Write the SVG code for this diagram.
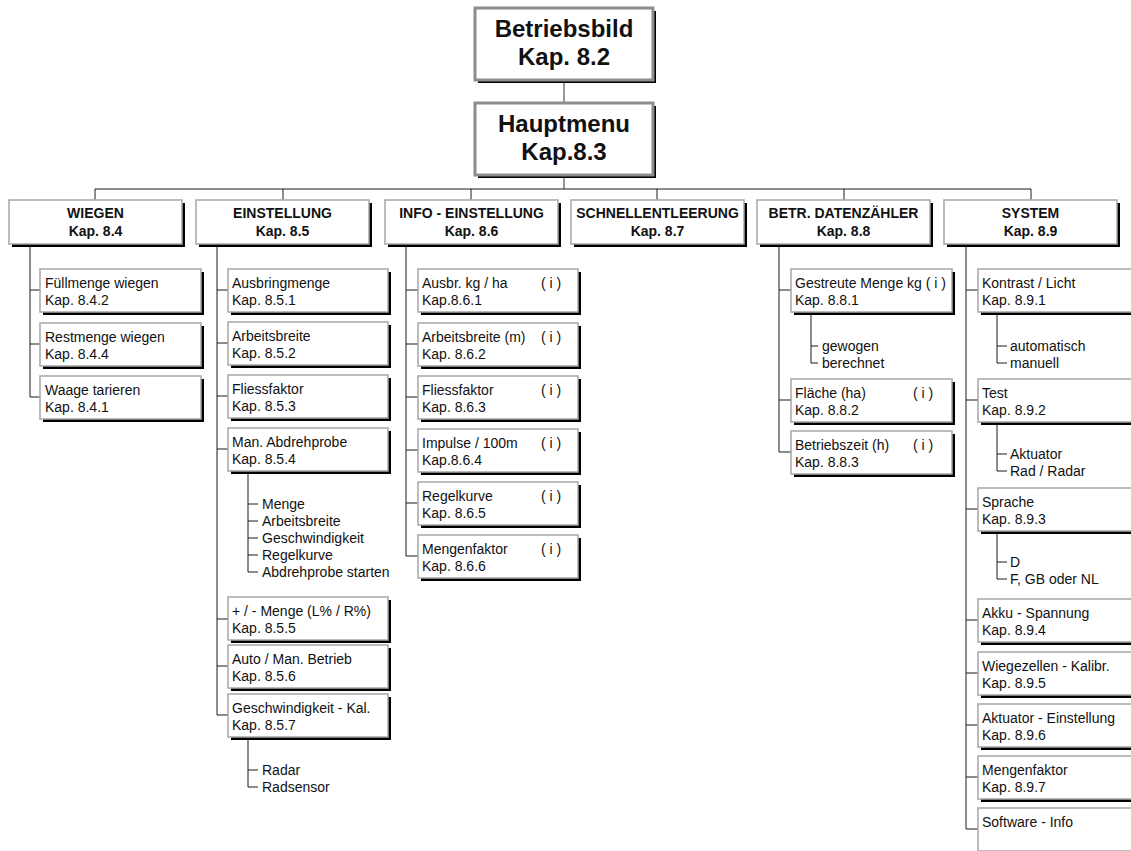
<svg xmlns="http://www.w3.org/2000/svg" width="1131" height="851" viewBox="0 0 1131 851">
  <style>
    .bg { fill: #ffffff; }
    .shadow { fill: #000000; }
    .box { fill: #ffffff; stroke: #a6a6a6; stroke-width: 1.5; }
    .head { fill: #ffffff; stroke: #8c8c8c; stroke-width: 3; }
    .t { font-family: "Liberation Sans", Arial, sans-serif; font-size: 14px; fill: #111111; }
    .c { text-anchor: middle; font-weight: bold; }
    .big { font-family: "Liberation Sans", Arial, sans-serif; font-size: 24px; font-weight: bold; fill: #111111; text-anchor: middle; }
    .link { stroke: #1a1a1a; stroke-width: 1; fill: none; }
    .link2 { stroke: #777777; stroke-width: 1.5; fill: none; }
  </style>
  <rect class="bg" x="0" y="0" width="1131" height="851"/>

  <!-- connectors -->
  <g id="connectors">
    <path class="link2" d="M564 80V103M564 175V189"/>
    <!-- bus to the six sections -->
    <path class="link" d="M95 200V189H1031V200M283 189V200M471 189V200M657 189V200M844 189V200"/>
    <!-- WIEGEN -->
    <path class="link" d="M30 244V397H40M30 290H40M30 344H40"/>
    <!-- EINSTELLUNG -->
    <path class="link" d="M217 244V715H228M217 290H228M217 343H228M217 396H228M217 449H228M217 619H228M217 666H228"/>
    <path class="link" d="M248 471V572H258M248 504H258M248 521H258M248 538H258M248 555H258"/>
    <path class="link" d="M248 737V787H258M248 770H258"/>
    <!-- INFO - EINSTELLUNG -->
    <path class="link" d="M406 244V556H418M406 290H418M406 344H418M406 397H418M406 450H418M406 503H418"/>
    <!-- BETR. DATENZAEHLER -->
    <path class="link" d="M779 244V452H791M779 290H791M779 400H791"/>
    <path class="link" d="M811 312V363H818M811 346H818"/>
    <!-- SYSTEM -->
    <path class="link" d="M966 244V829H978M966 290H978M966 400H978M966 509H978M966 620H978M966 673H978M966 725H978M966 777H978"/>
    <path class="link" d="M997 312V363H1007M997 346H1007"/>
    <path class="link" d="M997 422V471H1007M997 454H1007"/>
    <path class="link" d="M997 531V579H1007M997 562H1007"/>
  </g>

  <!-- top level -->
  <g id="betriebsbild">
    <rect class="shadow" x="478" y="11" width="178" height="72"/>
    <rect class="head" x="475" y="8" width="178" height="72"/>
    <text class="big" x="564" y="37">Betriebsbild</text>
    <text class="big" x="564" y="65">Kap. 8.2</text>
  </g>
  <g id="hauptmenu">
    <rect class="shadow" x="478" y="106" width="178" height="72"/>
    <rect class="head" x="475" y="103" width="178" height="72"/>
    <text class="big" x="564" y="132">Hauptmenu</text>
    <text class="big" x="564" y="160">Kap.8.3</text>
  </g>

  <!-- sections -->
  <g id="wiegen">
    <rect class="shadow" x="12" y="203" width="173" height="44"/>
    <rect class="box" x="9" y="200" width="173" height="44"/>
    <text class="t c" x="95.5" y="218">WIEGEN</text>
    <text class="t c" x="95.5" y="236">Kap. 8.4</text>
  </g>
  <g id="einstellung">
    <rect class="shadow" x="199" y="203" width="173" height="44"/>
    <rect class="box" x="196" y="200" width="173" height="44"/>
    <text class="t c" x="282.5" y="218">EINSTELLUNG</text>
    <text class="t c" x="282.5" y="236">Kap. 8.5</text>
  </g>
  <g id="info-einstellung">
    <rect class="shadow" x="388" y="203" width="173" height="44"/>
    <rect class="box" x="385" y="200" width="173" height="44"/>
    <text class="t c" x="471.5" y="218">INFO - EINSTELLUNG</text>
    <text class="t c" x="471.5" y="236">Kap. 8.6</text>
  </g>
  <g id="schnellentleerung">
    <rect class="shadow" x="574" y="203" width="173" height="44"/>
    <rect class="box" x="571" y="200" width="173" height="44"/>
    <text class="t c" x="657.5" y="218">SCHNELLENTLEERUNG</text>
    <text class="t c" x="657.5" y="236">Kap. 8.7</text>
  </g>
  <g id="datenzaehler">
    <rect class="shadow" x="760" y="203" width="173" height="44"/>
    <rect class="box" x="757" y="200" width="173" height="44"/>
    <text class="t c" x="843.5" y="218">BETR. DATENZÄHLER</text>
    <text class="t c" x="843.5" y="236">Kap. 8.8</text>
  </g>
  <g id="system">
    <rect class="shadow" x="947" y="203" width="173" height="44"/>
    <rect class="box" x="944" y="200" width="173" height="44"/>
    <text class="t c" x="1030.5" y="218">SYSTEM</text>
    <text class="t c" x="1030.5" y="236">Kap. 8.9</text>
  </g>

  <!-- WIEGEN items -->
  <g id="fuellmenge">
    <rect class="shadow" x="43" y="272" width="161" height="43"/>
    <rect class="box" x="40" y="269" width="161" height="43"/>
    <text class="t" x="45" y="288">Füllmenge wiegen</text>
    <text class="t" x="45" y="305">Kap. 8.4.2</text>
  </g>
  <g id="restmenge">
    <rect class="shadow" x="43" y="326" width="161" height="43"/>
    <rect class="box" x="40" y="323" width="161" height="43"/>
    <text class="t" x="45" y="342">Restmenge wiegen</text>
    <text class="t" x="45" y="359">Kap. 8.4.4</text>
  </g>
  <g id="tarieren">
    <rect class="shadow" x="43" y="379" width="161" height="43"/>
    <rect class="box" x="40" y="376" width="161" height="43"/>
    <text class="t" x="45" y="395">Waage tarieren</text>
    <text class="t" x="45" y="412">Kap. 8.4.1</text>
  </g>

  <!-- EINSTELLUNG items -->
  <g id="ausbringmenge">
    <rect class="shadow" x="231" y="272" width="160" height="43"/>
    <rect class="box" x="228" y="269" width="160" height="43"/>
    <text class="t" x="232" y="288">Ausbringmenge</text>
    <text class="t" x="232" y="305">Kap. 8.5.1</text>
  </g>
  <g id="arbeitsbreite">
    <rect class="shadow" x="231" y="325" width="160" height="43"/>
    <rect class="box" x="228" y="322" width="160" height="43"/>
    <text class="t" x="232" y="341">Arbeitsbreite</text>
    <text class="t" x="232" y="358">Kap. 8.5.2</text>
  </g>
  <g id="fliessfaktor">
    <rect class="shadow" x="231" y="378" width="160" height="43"/>
    <rect class="box" x="228" y="375" width="160" height="43"/>
    <text class="t" x="232" y="394">Fliessfaktor</text>
    <text class="t" x="232" y="411">Kap. 8.5.3</text>
  </g>
  <g id="abdrehprobe">
    <rect class="shadow" x="231" y="431" width="160" height="43"/>
    <rect class="box" x="228" y="428" width="160" height="43"/>
    <text class="t" x="232" y="447">Man. Abdrehprobe</text>
    <text class="t" x="232" y="464">Kap. 8.5.4</text>
  </g>
  <g id="abdrehprobe-items">
    <text class="t" x="262" y="509">Menge</text>
    <text class="t" x="262" y="526">Arbeitsbreite</text>
    <text class="t" x="262" y="543">Geschwindigkeit</text>
    <text class="t" x="262" y="560">Regelkurve</text>
    <text class="t" x="262" y="577">Abdrehprobe starten</text>
  </g>
  <g id="menge-lr">
    <rect class="shadow" x="231" y="600" width="160" height="43"/>
    <rect class="box" x="228" y="597" width="160" height="43"/>
    <text class="t" x="232" y="616">+ / - Menge (L% / R%)</text>
    <text class="t" x="232" y="633">Kap. 8.5.5</text>
  </g>
  <g id="betrieb">
    <rect class="shadow" x="231" y="648" width="160" height="43"/>
    <rect class="box" x="228" y="645" width="160" height="43"/>
    <text class="t" x="232" y="664">Auto / Man. Betrieb</text>
    <text class="t" x="232" y="681">Kap. 8.5.6</text>
  </g>
  <g id="geschw-kal">
    <rect class="shadow" x="231" y="697" width="160" height="43"/>
    <rect class="box" x="228" y="694" width="160" height="43"/>
    <text class="t" x="232" y="713">Geschwindigkeit - Kal.</text>
    <text class="t" x="232" y="730">Kap. 8.5.7</text>
  </g>
  <g id="geschw-items">
    <text class="t" x="262" y="775">Radar</text>
    <text class="t" x="262" y="792">Radsensor</text>
  </g>

  <!-- INFO - EINSTELLUNG items -->
  <g id="info-ausbr">
    <rect class="shadow" x="421" y="272" width="160" height="43"/>
    <rect class="box" x="418" y="269" width="160" height="43"/>
    <text class="t" x="422" y="288">Ausbr. kg / ha</text>
    <text class="t" x="541" y="288">( i )</text>
    <text class="t" x="422" y="305">Kap.8.6.1</text>
  </g>
  <g id="info-arbeitsbreite">
    <rect class="shadow" x="421" y="326" width="160" height="43"/>
    <rect class="box" x="418" y="323" width="160" height="43"/>
    <text class="t" x="422" y="342">Arbeitsbreite (m)</text>
    <text class="t" x="541" y="342">( i )</text>
    <text class="t" x="422" y="359">Kap. 8.6.2</text>
  </g>
  <g id="info-fliessfaktor">
    <rect class="shadow" x="421" y="379" width="160" height="43"/>
    <rect class="box" x="418" y="376" width="160" height="43"/>
    <text class="t" x="422" y="395">Fliessfaktor</text>
    <text class="t" x="541" y="395">( i )</text>
    <text class="t" x="422" y="412">Kap. 8.6.3</text>
  </g>
  <g id="info-impulse">
    <rect class="shadow" x="421" y="432" width="160" height="43"/>
    <rect class="box" x="418" y="429" width="160" height="43"/>
    <text class="t" x="422" y="448">Impulse / 100m</text>
    <text class="t" x="541" y="448">( i )</text>
    <text class="t" x="422" y="465">Kap.8.6.4</text>
  </g>
  <g id="info-regelkurve">
    <rect class="shadow" x="421" y="485" width="160" height="43"/>
    <rect class="box" x="418" y="482" width="160" height="43"/>
    <text class="t" x="422" y="501">Regelkurve</text>
    <text class="t" x="541" y="501">( i )</text>
    <text class="t" x="422" y="518">Kap. 8.6.5</text>
  </g>
  <g id="info-mengenfaktor">
    <rect class="shadow" x="421" y="538" width="160" height="43"/>
    <rect class="box" x="418" y="535" width="160" height="43"/>
    <text class="t" x="422" y="554">Mengenfaktor</text>
    <text class="t" x="541" y="554">( i )</text>
    <text class="t" x="422" y="571">Kap. 8.6.6</text>
  </g>

  <!-- BETR. DATENZAEHLER items -->
  <g id="gestreute-menge">
    <rect class="shadow" x="794" y="272" width="161" height="43"/>
    <rect class="box" x="791" y="269" width="161" height="43"/>
    <text class="t" x="795" y="288">Gestreute Menge kg ( i )</text>
    <text class="t" x="795" y="305">Kap. 8.8.1</text>
  </g>
  <g id="gestreute-items">
    <text class="t" x="822" y="351">gewogen</text>
    <text class="t" x="822" y="368">berechnet</text>
  </g>
  <g id="flaeche">
    <rect class="shadow" x="794" y="382" width="161" height="43"/>
    <rect class="box" x="791" y="379" width="161" height="43"/>
    <text class="t" x="795" y="398">Fläche (ha)</text>
    <text class="t" x="913" y="398">( i )</text>
    <text class="t" x="795" y="415">Kap. 8.8.2</text>
  </g>
  <g id="betriebszeit">
    <rect class="shadow" x="794" y="434" width="161" height="43"/>
    <rect class="box" x="791" y="431" width="161" height="43"/>
    <text class="t" x="795" y="450">Betriebszeit (h)</text>
    <text class="t" x="913" y="450">( i )</text>
    <text class="t" x="795" y="467">Kap. 8.8.3</text>
  </g>

  <!-- SYSTEM items -->
  <g id="kontrast">
    <rect class="shadow" x="981" y="272" width="170" height="43"/>
    <rect class="box" x="978" y="269" width="170" height="43"/>
    <text class="t" x="982" y="288">Kontrast / Licht</text>
    <text class="t" x="982" y="305">Kap. 8.9.1</text>
  </g>
  <g id="kontrast-items">
    <text class="t" x="1010" y="351">automatisch</text>
    <text class="t" x="1010" y="368">manuell</text>
  </g>
  <g id="test">
    <rect class="shadow" x="981" y="382" width="170" height="43"/>
    <rect class="box" x="978" y="379" width="170" height="43"/>
    <text class="t" x="982" y="398">Test</text>
    <text class="t" x="982" y="415">Kap. 8.9.2</text>
  </g>
  <g id="test-items">
    <text class="t" x="1010" y="459">Aktuator</text>
    <text class="t" x="1010" y="476">Rad / Radar</text>
  </g>
  <g id="sprache">
    <rect class="shadow" x="981" y="491" width="170" height="43"/>
    <rect class="box" x="978" y="488" width="170" height="43"/>
    <text class="t" x="982" y="507">Sprache</text>
    <text class="t" x="982" y="524">Kap. 8.9.3</text>
  </g>
  <g id="sprache-items">
    <text class="t" x="1010" y="567">D</text>
    <text class="t" x="1010" y="584">F, GB oder NL</text>
  </g>
  <g id="akku">
    <rect class="shadow" x="981" y="602" width="170" height="43"/>
    <rect class="box" x="978" y="599" width="170" height="43"/>
    <text class="t" x="982" y="618">Akku - Spannung</text>
    <text class="t" x="982" y="635">Kap. 8.9.4</text>
  </g>
  <g id="wiegezellen">
    <rect class="shadow" x="981" y="655" width="170" height="43"/>
    <rect class="box" x="978" y="652" width="170" height="43"/>
    <text class="t" x="982" y="671">Wiegezellen - Kalibr.</text>
    <text class="t" x="982" y="688">Kap. 8.9.5</text>
  </g>
  <g id="aktuator">
    <rect class="shadow" x="981" y="707" width="170" height="43"/>
    <rect class="box" x="978" y="704" width="170" height="43"/>
    <text class="t" x="982" y="723">Aktuator - Einstellung</text>
    <text class="t" x="982" y="740">Kap. 8.9.6</text>
  </g>
  <g id="sys-mengenfaktor">
    <rect class="shadow" x="981" y="759" width="170" height="43"/>
    <rect class="box" x="978" y="756" width="170" height="43"/>
    <text class="t" x="982" y="775">Mengenfaktor</text>
    <text class="t" x="982" y="792">Kap. 8.9.7</text>
  </g>
  <g id="software">
    <rect class="shadow" x="981" y="811" width="170" height="43"/>
    <rect class="box" x="978" y="808" width="170" height="43"/>
    <text class="t" x="982" y="827">Software - Info</text>
  </g>
</svg>
